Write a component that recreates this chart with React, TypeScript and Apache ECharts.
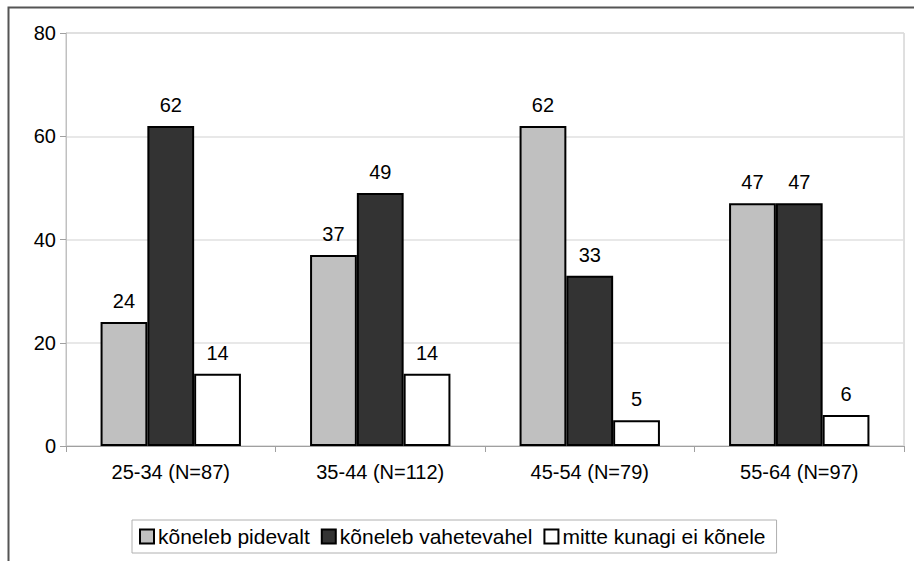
import React, { useEffect, useRef } from "react";
import * as echarts from "echarts";

const categories = ["25-34 (N=87)", "35-44 (N=112)", "45-54 (N=79)", "55-64 (N=97)"];
const seriesNames = ["kõneleb pidevalt", "kõneleb vahetevahel", "mitte kunagi ei kõnele"];
const pidevalt = [24, 37, 62, 47];
const vahetevahel = [62, 49, 33, 47];
const mitteKunagi = [14, 14, 5, 6];
const yTicks = { min: 0, max: 80, interval: 20 };

const FONT = "'Liberation Sans', Arial, sans-serif";

export default function App() {
  const ref = useRef<HTMLDivElement>(null);
  useEffect(() => {
    if (!ref.current) return;
    const chart = echarts.init(ref.current, undefined, { renderer: "svg" });
    const colors = ["#c0c0c0", "#333333", "#ffffff"];
    const data = [pidevalt, vahetevahel, mitteKunagi];
    chart.setOption({
      animation: false,
      backgroundColor: "#ffffff",
      textStyle: { fontFamily: FONT },
      graphic: [
        {
          type: "rect",
          shape: { x: 8.5, y: 7.5, width: 1000, height: 1000 },
          style: { fill: "none", stroke: "#555555", lineWidth: 2 },
          silent: true,
          z: 100,
        },
      ],
      grid: {
        left: 66,
        top: 33,
        right: 10,
        bottom: 115,
        show: true,
        borderColor: "#c0c0c0",
        borderWidth: 1,
        containLabel: false,
      },
      legend: {
        left: 132,
        top: 520,
        orient: "horizontal",
        data: seriesNames,
        icon: "rect",
        itemWidth: 14,
        itemHeight: 14,
        itemGap: 11,
        padding: [6, 11, 6, 7],
        borderColor: "#b0b0b0",
        borderWidth: 1,
        textStyle: { fontSize: 21, color: "#000", fontFamily: FONT, padding: [0, 0, 0, -1] },
        itemStyle: { borderColor: "#000", borderWidth: 2 },
      },
      xAxis: {
        type: "category",
        data: categories,
        axisLine: { lineStyle: { color: "#a0a0a0", width: 1 } },
        axisTick: { show: true, length: 6, lineStyle: { color: "#a0a0a0" } },
        axisLabel: { fontSize: 20, color: "#000", margin: 16, fontFamily: FONT },
      },
      yAxis: {
        type: "value",
        min: yTicks.min,
        max: yTicks.max,
        interval: yTicks.interval,
        axisLine: { show: true, lineStyle: { color: "#c0c0c0", width: 1 } },
        axisTick: { show: true, length: 6, lineStyle: { color: "#a0a0a0" } },
        axisLabel: { fontSize: 20, color: "#000", margin: 10, fontFamily: FONT },
        splitLine: { lineStyle: { color: "#e0e0e0", width: 1.5 } },
      },
      series: seriesNames.map((name, i) => ({
        name,
        type: "bar",
        data: data[i],
        barGap: "0%",
        barCategoryGap: "33%",
        itemStyle: { color: colors[i], borderColor: "#000", borderWidth: 2 },
        label: {
          show: true,
          position: "top",
          distance: 11,
          fontSize: 20,
          color: "#000",
          fontFamily: FONT,
        },
      })),
    });
    return () => chart.dispose();
  }, []);
  return (
    <div
      ref={ref}
      style={{ position: "absolute", left: 0, top: 0, width: 914, height: 561 }}
    />
  );
}
